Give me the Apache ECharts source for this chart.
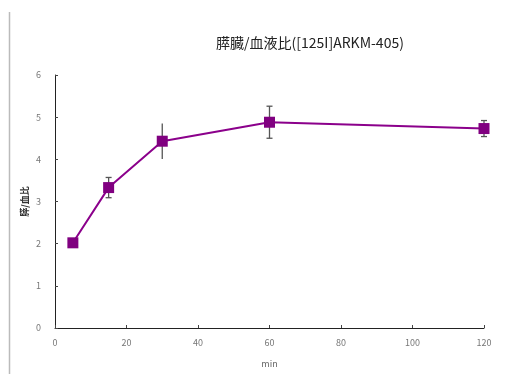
<!DOCTYPE html>
<html>
<head>
<meta charset="utf-8">
<script src="https://cdn.jsdelivr.net/npm/echarts@6/dist/echarts.min.js"></script>
<style>
  html, body { margin: 0; padding: 0; background: #fff; }
  #chart { width: 521px; height: 374px; }
</style>
</head>
<body>
<div id="chart"></div>
<script>
// Sampling times (min) and pancreas/blood ratio with SD
const times = [5, 15, 30, 60, 120];
const ratio = [2.02, 3.33, 4.43, 4.88, 4.73];
const sd = [0.05, 0.24, 0.42, 0.38, 0.19];
const capped = [true, true, false, true, true];

const chart = echarts.init(document.getElementById('chart'), null, { renderer: 'canvas' });
const font = '"Noto Sans CJK JP", "Noto Sans", sans-serif';

const errData = times.map((t, i) => [t, ratio[i] - sd[i], ratio[i] + sd[i], capped[i] ? 1 : 0]);

chart.setOption({
  animation: false,
  title: {
    text: '膵臓/血液比([125I]ARKM-405)',
    left: 305, top: 31, textAlign: 'center',
    textStyle: { fontFamily: font, fontSize: 14, fontWeight: 'normal', color: '#222' }
  },
  grid: { left: 55, right: 37, top: 75, bottom: 46 },
  xAxis: {
    type: 'value', min: 0, max: 120, interval: 20,
    name: 'min', nameLocation: 'middle', nameGap: 31, nameMoveOverlap: false,
    nameTextStyle: { fontFamily: font, fontSize: 9, color: '#666' },
    axisLine: { lineStyle: { color: '#222', width: 1 } },
    axisTick: { inside: true, length: 3, lineStyle: { color: '#444' } },
    axisLabel: { fontFamily: font, fontSize: 9, color: '#777', margin: 10 },
    splitLine: { show: false }
  },
  yAxis: {
    type: 'value', min: 0, max: 6, interval: 1,
    name: '膵/血比', nameLocation: 'middle', nameGap: 26, nameRotate: 90, nameMoveOverlap: false,
    nameTextStyle: { fontFamily: font, fontSize: 9, color: '#333', fontWeight: 'bold' },
    axisLine: { show: true, lineStyle: { color: '#222', width: 1 } },
    axisTick: { show: true, inside: true, length: 3, lineStyle: { color: '#444' } },
    axisLabel: { fontFamily: font, fontSize: 9, color: '#777', margin: 14 },
    splitLine: { show: false }
  },
  graphic: [{
    type: 'line', shape: { x1: 9.5, y1: 12, x2: 9.5, y2: 374 },
    style: { stroke: '#bbb', lineWidth: 1.5 }
  }],
  series: [
    {
      type: 'line',
      data: times.map((t, i) => [t, ratio[i]]),
      symbol: 'rect', symbolSize: 11,
      lineStyle: { color: '#8b008b', width: 2 },
      itemStyle: { color: '#800080' },
      z: 3
    },
    {
      type: 'custom',
      data: errData,
      z: 2,
      renderItem: function (params, api) {
        const x = api.value(0);
        const lo = api.coord([x, api.value(1)]);
        const hi = api.coord([x, api.value(2)]);
        const w = 3;
        const style = { stroke: '#555', lineWidth: 1.3 };
        const children = [
          { type: 'line', shape: { x1: lo[0], y1: lo[1], x2: hi[0], y2: hi[1] }, style: style }
        ];
        if (api.value(3)) {
          children.push({ type: 'line', shape: { x1: lo[0] - w, y1: lo[1], x2: lo[0] + w, y2: lo[1] }, style: style });
          children.push({ type: 'line', shape: { x1: hi[0] - w, y1: hi[1], x2: hi[0] + w, y2: hi[1] }, style: style });
        }
        return { type: 'group', children: children };
      }
    }
  ]
});
</script>
</body>
</html>
